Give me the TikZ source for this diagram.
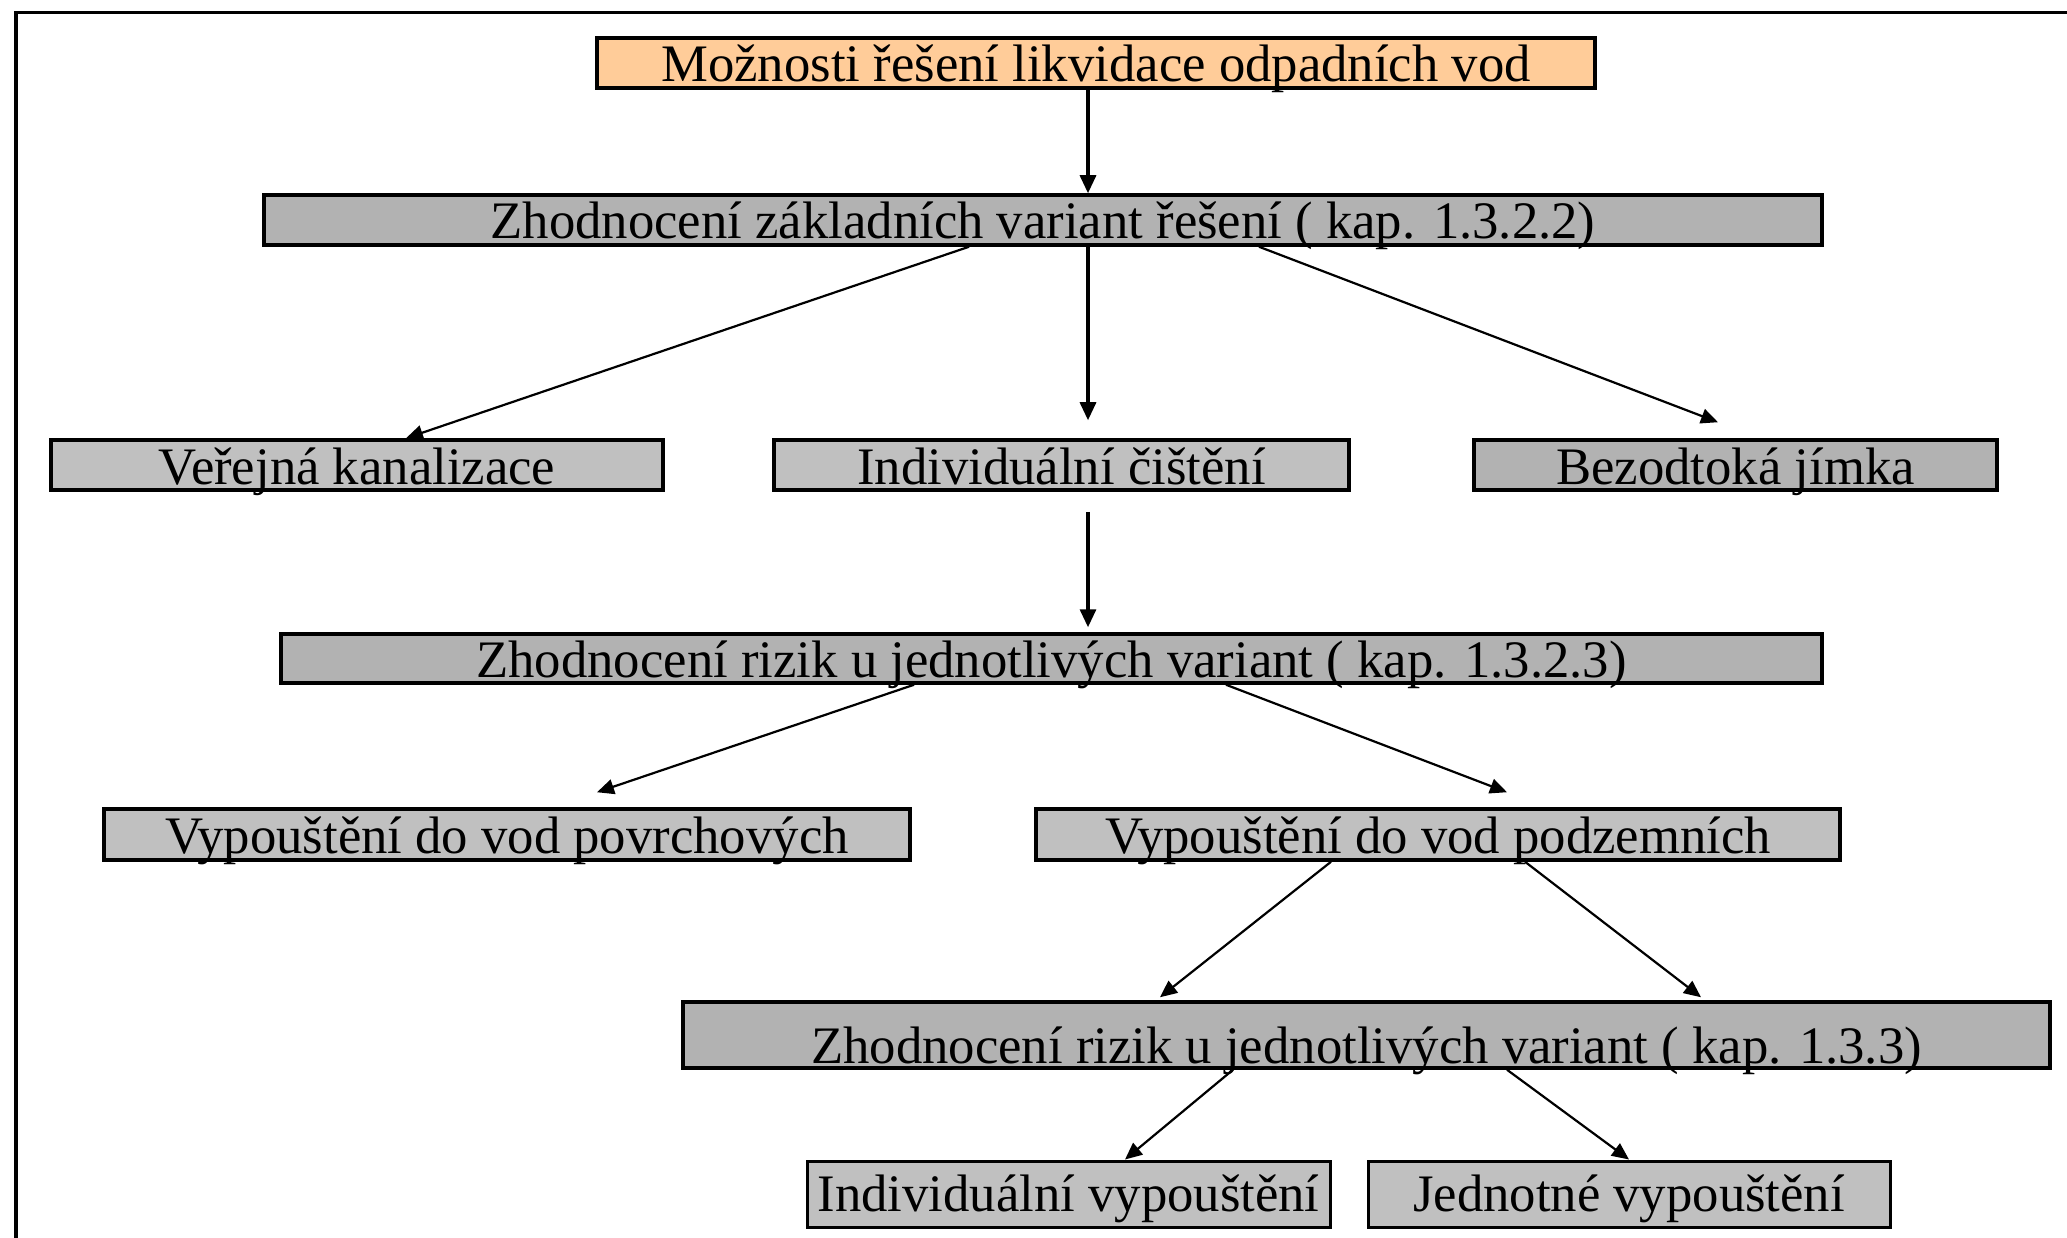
\documentclass[tikz,border=0pt]{standalone}
\usepackage{fontspec}
\setmainfont{Liberation Serif}
\usetikzlibrary{arrows.meta}
\definecolor{boxdark}{HTML}{B2B2B2}
\definecolor{boxlight}{HTML}{C0C0C0}
\definecolor{boxpeach}{HTML}{FFCC99}
\tikzset{
  box/.style={draw, line width=3.5pt, rectangle, inner sep=0pt,
    font=\fontsize{52.7}{60}\selectfont, text height=44pt, text depth=6pt, anchor=center},
  darkbox/.style={box, fill=boxdark},
  lightbox/.style={box, fill=boxlight},
  peachbox/.style={box, fill=boxpeach},
  conn/.style={line width=2.2pt, -{Triangle[length=17pt,width=15pt]}},
  vconn/.style={line width=3.2pt, -{Triangle[length=18pt,width=16pt]}},
  frameline/.style={line width=3.5pt, line cap=butt}
}
\begin{document}
\begin{tikzpicture}[x=1pt,y=-1pt]
\useasboundingbox (0,0) rectangle (2067,1238);
\draw[frameline] (16,1238) -- (16,12.5) -- (2067,12.5);

\node[peachbox, minimum width=998pt, minimum height=50pt] (top) at (1096,63) {Možnosti řešení likvidace odpadních vod};
\node[darkbox, minimum width=1558pt, minimum height=50pt] (z1) at (1043,220) {Zhodnocení základních variant řešení ( kap. 1.3.2.2)};
\node[lightbox, minimum width=612pt, minimum height=50pt] (ver) at (357,465) {Veřejná kanalizace};
\node[lightbox, minimum width=575pt, minimum height=50pt] (ind) at (1061.5,465) {Individuální čištění};
\node[darkbox, minimum width=523pt, minimum height=50pt] (bez) at (1735.5,465) {Bezodtoká jímka};
\node[darkbox, minimum width=1541pt, minimum height=49pt, text height=43pt] (z2) at (1051.5,658.5) {Zhodnocení rizik u jednotlivých variant ( kap. 1.3.2.3)};
\node[lightbox, minimum width=806pt, minimum height=51pt, text height=44pt, text depth=7pt] (pov) at (507,834.5) {Vypouštění do vod povrchových};
\node[lightbox, minimum width=804pt, minimum height=51pt, text height=44pt, text depth=7pt] (pod) at (1438,834.5) {Vypouštění do vod podzemních};
\node[darkbox, minimum width=1367pt, minimum height=66pt, text height=61pt, text depth=5pt] (z3) at (1366.5,1035) {Zhodnocení rizik u jednotlivých variant ( kap. 1.3.3)};
\node[lightbox, line width=3pt, minimum width=523pt, minimum height=66pt, text height=50pt, text depth=16pt] (iv) at (1068.5,1194) {Individuální vypouštění};
\node[lightbox, line width=3pt, minimum width=522pt, minimum height=66pt, text height=50pt, text depth=16pt] (jv) at (1629,1194) {Jednotné vypouštění};

\draw[vconn] ([xshift=-8pt]top.south) -- ([xshift=45pt]z1.north);
\draw[conn] ([xshift=-74pt]z1.south) -- ([xshift=49pt]ver.north);
\draw[vconn] ([xshift=45pt]z1.south) -- ([xshift=26.5pt,yshift=18pt]ind.north);
\draw[conn] ([xshift=216pt]z1.south) -- ([xshift=-17.5pt,yshift=16pt]bez.north);
\draw[vconn] ([xshift=26.5pt,yshift=-20pt]ind.south) -- ([xshift=36.5pt,yshift=5pt]z2.north);
\draw[conn] ([xshift=-137.5pt]z2.south) -- ([xshift=90pt,yshift=15pt]pov.north);
\draw[conn] ([xshift=174.5pt]z2.south) -- ([xshift=69pt,yshift=15pt]pod.north);
\draw[conn] ([xshift=-107pt]pod.south) -- ([xshift=-206.5pt,yshift=3pt]z3.north);
\draw[conn] ([xshift=87pt]pod.south) -- ([xshift=334.5pt,yshift=3pt]z3.north);
\draw[conn] ([xshift=-133.5pt]z3.south) -- ([xshift=56.5pt]iv.north);
\draw[conn] ([xshift=140.5pt]z3.south) -- (jv.north);
\end{tikzpicture}
\end{document}
